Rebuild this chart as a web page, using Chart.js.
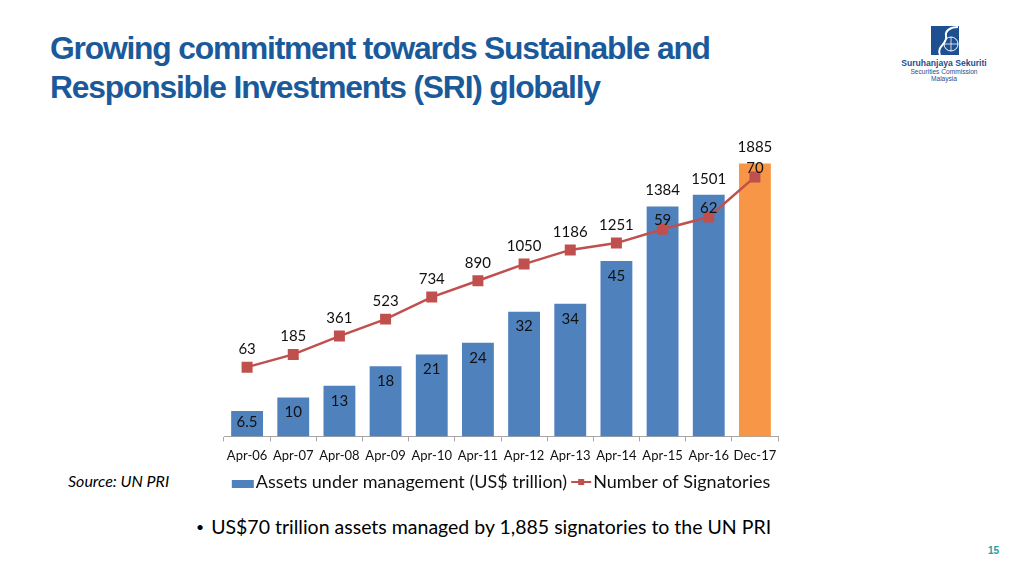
<!DOCTYPE html>
<html>
<head>
<meta charset="utf-8">
<script src="https://cdn.jsdelivr.net/npm/chart.js@4/dist/chart.umd.min.js"></script>
<style>
  html, body { margin:0; padding:0; background:#fff; }
  body { width:1024px; height:576px; position:relative; overflow:hidden; font-family: Lato, "Open Sans", sans-serif; }
  #title { position:absolute; left:50px; top:29px; font-family:"Liberation Sans", Arial, sans-serif; font-weight:bold; font-size:31.8px; line-height:39px; color:#1B5A9A; letter-spacing:-1.2px; white-space:nowrap; }
  #chartBox { position:absolute; left:214px; top:120px; width:580px; height:381px; }
  #source { position:absolute; left:68px; top:471px; font-family:Lato, sans-serif; font-style:italic; font-size:16px; color:#000; }
  #bullet { position:absolute; left:196px; top:515px; font-family:Lato, sans-serif; font-size:19.5px; color:#000; white-space:nowrap; }
  #bullet .dot { font-size:14px; position:relative; top:-2px; margin-right:7px; }
  #page { position:absolute; left:988px; top:545px; font-family:"Liberation Sans", Arial, sans-serif; font-weight:bold; font-size:10px; color:#1BA1A1; }
  #logo { position:absolute; left:896px; top:24px; width:96px; height:62px; }
</style>
</head>
<body>
<div id="title">Growing commitment towards Sustainable and<br>Responsible Investments (SRI) globally</div>
<svg id="logo" viewBox="0 0 96 62" xmlns="http://www.w3.org/2000/svg">
  <rect x="35" y="2" width="28" height="29" fill="#1D4F91"/>
  <path d="M44 31 C 40 22, 52 20, 50 12 C 49 7, 54 3, 62 3" stroke="#fff" stroke-width="2" fill="none"/>
  <circle cx="55" cy="20" r="7" stroke="#fff" stroke-width="1" fill="none"/>
  <line x1="48" y1="20" x2="62" y2="20" stroke="#fff" stroke-width="0.8"/>
  <line x1="55" y1="13" x2="55" y2="27" stroke="#fff" stroke-width="0.8"/>
  <text x="48" y="42" text-anchor="middle" font-family="Liberation Sans, Arial" font-weight="bold" font-size="8.6" fill="#1D4F91">Suruhanjaya Sekuriti</text>
  <text x="48" y="50" text-anchor="middle" font-family="Liberation Sans, Arial" font-size="6.6" fill="#1D4F91">Securities Commission</text>
  <text x="48" y="57" text-anchor="middle" font-family="Liberation Sans, Arial" font-size="6.6" fill="#1D4F91">Malaysia</text>
</svg>
<div id="chartBox"><canvas id="c"></canvas></div>
<div id="source">Source: UN PRI</div>
<div id="bullet"><span class="dot">•</span>US$70 trillion assets managed by 1,885 signatories to the UN PRI</div>
<div id="page">15</div>
<script>
const categories = ["Apr-06","Apr-07","Apr-08","Apr-09","Apr-10","Apr-11","Apr-12","Apr-13","Apr-14","Apr-15","Apr-16","Dec-17"];
const assetsUSDtrillion = [6.5, 10, 13, 18, 21, 24, 32, 34, 45, 59, 62, 70];
const signatories = [63, 185, 361, 523, 734, 890, 1050, 1186, 1251, 1384, 1501, 1885];
const assetsLabel = "Assets under management (US$ trillion)";
const signatoriesLabel = "Number of Signatories";

const BLUE = "#4F81BD", ORANGE = "#F79646", RED = "#C0504D";
const barColors = assetsUSDtrillion.map((v, i) => i === assetsUSDtrillion.length - 1 ? ORANGE : BLUE);

function makeIcon(kind) {
  const cv = document.createElement("canvas");
  cv.width = 41; cv.height = 18;
  const g = cv.getContext("2d");
  if (kind === "bar") {
    g.fillStyle = BLUE; g.fillRect(13, 7, 22, 8);
  } else {
    g.strokeStyle = RED; g.lineWidth = 2;
    g.beginPath(); g.moveTo(15, 9); g.lineTo(35, 9); g.stroke();
    g.fillStyle = RED; g.fillRect(22, 6, 6, 6);
  }
  return cv;
}

const labelPlugin = {
  id: "valueLabels",
  afterDatasetsDraw(chart) {
    const ctx = chart.ctx;
    const barMeta = chart.getDatasetMeta(0);
    const lineMeta = chart.getDatasetMeta(1);
    ctx.save();
    ctx.font = "15px Lato, sans-serif";
    ctx.fillStyle = "#111";
    ctx.textAlign = "center";
    ctx.textBaseline = "middle";
    barMeta.data.forEach((bar, i) => {
      const top = bar.y, base = bar.base;
      const pt = lineMeta.data[i];
      let y = Math.min(top + 15, base - 14);
      if (pt.y > top) y = Math.min(y, pt.y - 9);
      ctx.fillText(String(assetsUSDtrillion[i]), bar.x, y);
    });
    lineMeta.data.forEach((pt, i) => {
      const bar = barMeta.data[i];
      const y = Math.min(pt.y - 18, bar.y - 16);
      ctx.fillText(String(signatories[i]), pt.x, y);
    });
    ctx.restore();
  }
};

new Chart(document.getElementById("c"), {
  data: {
    labels: categories,
    datasets: [
      {
        type: "bar",
        label: assetsLabel,
        data: assetsUSDtrillion,
        backgroundColor: barColors,
        yAxisID: "y",
        order: 2,
        categoryPercentage: 1.0,
        barPercentage: 0.69
      },
      {
        type: "line",
        label: signatoriesLabel,
        data: signatories,
        borderColor: RED,
        backgroundColor: RED,
        borderWidth: 2.5,
        pointStyle: "rect",
        pointRadius: 6,
        pointHoverRadius: 6,
        yAxisID: "y2",
        order: 1,
        tension: 0
      }
    ]
  },
  options: {
    responsive: true,
    maintainAspectRatio: false,
    animation: false,
    layout: { padding: { left: 10, right: 16, top: 24, bottom: 0 } },
    scales: {
      x: {
        offset: true,
        grid: { display: true, offset: true, drawOnChartArea: false, drawTicks: true, tickLength: 5, color: "#A6A6A6" },
        border: { display: true, color: "#A6A6A6", width: 1 },
        ticks: { color: "#111", font: { family: "Lato", size: 13 }, padding: 7, maxRotation: 0, autoSkip: false }
      },
      y: { display: false, min: 0, max: 75 },
      y2: { display: false, min: -600, max: 2200 }
    },
    plugins: {
      tooltip: { enabled: false },
      legend: {
        position: "bottom",
        labels: {
          usePointStyle: true,
          pointStyleWidth: 15,
          boxHeight: 18,
          padding: 2,
          color: "#111",
          font: { family: "Lato", size: 18 },
          generateLabels() {
            return [
              { text: assetsLabel, pointStyle: makeIcon("bar"), fillStyle: BLUE, strokeStyle: BLUE, lineWidth: 0, datasetIndex: 0, fontColor: "#111" },
              { text: signatoriesLabel, pointStyle: makeIcon("line"), fillStyle: RED, strokeStyle: RED, lineWidth: 0, datasetIndex: 1, fontColor: "#111" }
            ];
          }
        }
      }
    }
  },
  plugins: [labelPlugin]
});
</script>
</body>
</html>
